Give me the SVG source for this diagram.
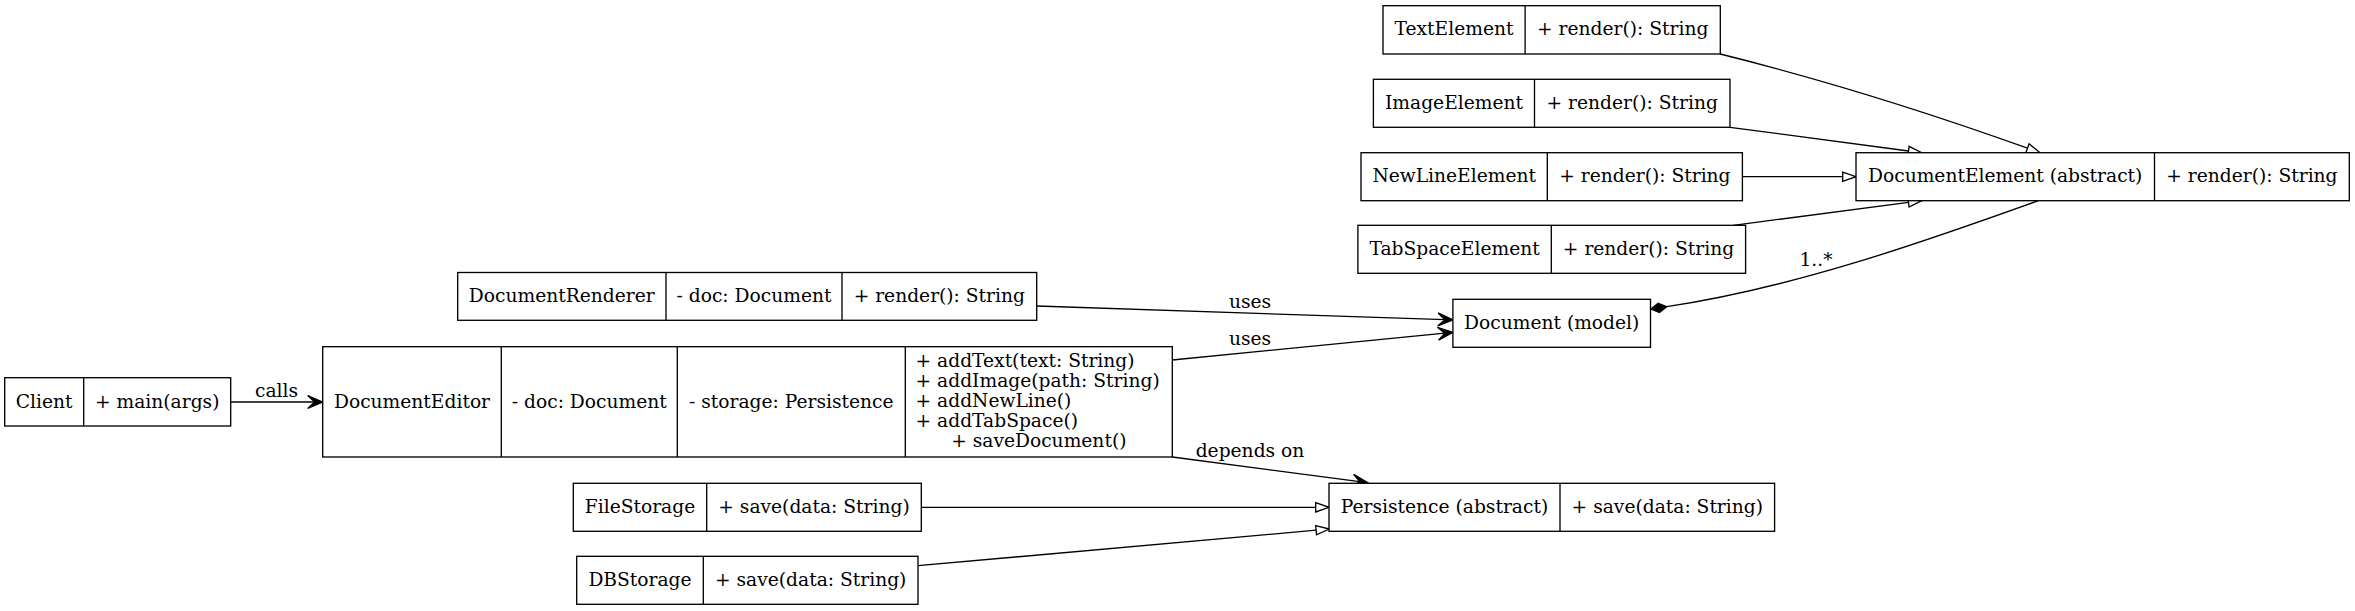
<svg xmlns="http://www.w3.org/2000/svg" width="2355" height="611" viewBox="0 0 2355 611">
<style>
.box{fill:#fff;stroke:#000;stroke-width:1.33}
.div{stroke:#000;stroke-width:1.33}
text{font-family:"DejaVu Serif","Liberation Serif",serif;font-size:18.67px;fill:#000}
.c{text-anchor:middle}
.l{text-anchor:start}
.edge{fill:none;stroke:#000;stroke-width:1.33}
</style>
<defs>
<marker id="vee" markerUnits="userSpaceOnUse" markerWidth="30" markerHeight="30" refX="0" refY="0" orient="auto" overflow="visible">
<path d="M8,0 L-7,-6.5 L0,0 L-7,6.5 Z" fill="#000" stroke="#000" stroke-width="1.33" stroke-linejoin="miter"/>
</marker>
<marker id="tri" markerUnits="userSpaceOnUse" markerWidth="30" markerHeight="30" refX="0" refY="0" orient="auto" overflow="visible">
<path d="M0,-4.67 L13.3,0 L0,4.67 Z" fill="#fff" stroke="#000" stroke-width="1.33"/>
</marker>
<marker id="diamond" markerUnits="userSpaceOnUse" markerWidth="30" markerHeight="30" refX="0" refY="0" orient="auto" overflow="visible">
<path d="M0,0 L8,-4.7 L16,0 L8,4.7 Z" fill="#000" stroke="#000" stroke-width="1.33"/>
</marker>
</defs>
<rect x="0" y="0" width="2355" height="611" fill="#fff"/>

<g id="connectors">
<path class="edge" d="M230.7,402 L314.7,402" marker-end="url(#vee)"/>
<path class="edge" d="M1036.7,306 L1444.9,319.7" marker-end="url(#vee)"/>
<path class="edge" d="M1172.3,360 L1444.9,333.1" marker-end="url(#vee)"/>
<path class="edge" d="M1172.3,457 L1359.7,481.6" marker-end="url(#vee)"/>
<path class="edge" d="M921.3,507.3 L1315.7,507.3" marker-end="url(#tri)"/>
<path class="edge" d="M918,565.7 L1316.1,530.2" marker-end="url(#tri)"/>
<path class="edge" d="M1720.3,54 C1820.3,79 1927.5,112.2 2027.5,148.2" marker-end="url(#tri)"/>
<path class="edge" d="M1730,127.3 L1908.5,151" marker-end="url(#tri)"/>
<path class="edge" d="M1742.4,176.7 L1842.7,176.7" marker-end="url(#tri)"/>
<path class="edge" d="M1733.3,225.3 L1908.5,202.4" marker-end="url(#tri)"/>
<path class="edge" d="M2038.3,200.7 C1914.3,245.3 1790.7,288.1 1666.7,306.7" marker-end="url(#diamond)"/>
<text class="c" x="276.5" y="396.7">calls</text>
<text class="c" x="1250" y="308.3">uses</text>
<text class="c" x="1250" y="345.3">uses</text>
<text class="c" x="1250" y="457.3">depends on</text>
<text class="c" x="1816" y="265.7">1..*</text>
</g>

<g id="TextElement">
<rect class="box" x="1383" y="5.7" width="337.3" height="48.3"/>
<line class="div" x1="1525.1" y1="5.7" x2="1525.1" y2="54"/>
<text class="c" x="1454" y="35.4">TextElement</text>
<text class="c" x="1622.7" y="35.4">+ render(): String</text>
</g>

<g id="ImageElement">
<rect class="box" x="1373.4" y="79.3" width="356.6" height="48"/>
<line class="div" x1="1534.5" y1="79.3" x2="1534.5" y2="127.3"/>
<text class="c" x="1454" y="108.9">ImageElement</text>
<text class="c" x="1632.2" y="108.9">+ render(): String</text>
</g>

<g id="NewLineElement">
<rect class="box" x="1361" y="152.7" width="381.4" height="48"/>
<line class="div" x1="1547.3" y1="152.7" x2="1547.3" y2="200.7"/>
<text class="c" x="1454.2" y="182.3">NewLineElement</text>
<text class="c" x="1644.9" y="182.3">+ render(): String</text>
</g>

<g id="TabSpaceElement">
<rect class="box" x="1357.9" y="225.3" width="387.7" height="48"/>
<line class="div" x1="1551.3" y1="225.3" x2="1551.3" y2="273.3"/>
<text class="c" x="1454.6" y="254.9">TabSpaceElement</text>
<text class="c" x="1648.5" y="254.9">+ render(): String</text>
</g>

<g id="DocumentElement">
<rect class="box" x="1856" y="152.7" width="493.3" height="48"/>
<line class="div" x1="2154.5" y1="152.7" x2="2154.5" y2="200.7"/>
<text class="c" x="2005.2" y="182.3">DocumentElement (abstract)</text>
<text class="c" x="2251.9" y="182.3">+ render(): String</text>
</g>

<g id="DocumentRenderer">
<rect class="box" x="457.7" y="272.5" width="579" height="47.8"/>
<line class="div" x1="666" y1="272.5" x2="666" y2="320.3"/>
<line class="div" x1="842" y1="272.5" x2="842" y2="320.3"/>
<text class="c" x="561.8" y="302">DocumentRenderer</text>
<text class="c" x="754" y="302">- doc: Document</text>
<text class="c" x="939.3" y="302">+ render(): String</text>
</g>

<g id="Document">
<rect class="box" x="1452.9" y="299.3" width="197.6" height="48"/>
<text class="c" x="1551.7" y="328.9">Document (model)</text>
</g>

<g id="Client">
<rect class="box" x="4.7" y="377.7" width="226" height="48.3"/>
<line class="div" x1="83.7" y1="377.7" x2="83.7" y2="426"/>
<text class="c" x="44.2" y="407.5">Client</text>
<text class="c" x="157.2" y="407.5">+ main(args)</text>
</g>

<g id="DocumentEditor">
<rect class="box" x="322.7" y="346.7" width="849.6" height="110.3"/>
<line class="div" x1="501.3" y1="346.7" x2="501.3" y2="457"/>
<line class="div" x1="677.3" y1="346.7" x2="677.3" y2="457"/>
<line class="div" x1="905.3" y1="346.7" x2="905.3" y2="457"/>
<text class="c" x="412" y="407.5">DocumentEditor</text>
<text class="c" x="589.3" y="407.5">- doc: Document</text>
<text class="c" x="791.3" y="407.5">- storage: Persistence</text>
<text class="l" x="915.5" y="366.7">+ addText(text: String)</text>
<text class="l" x="915.5" y="386.7">+ addImage(path: String)</text>
<text class="l" x="915.5" y="406.7">+ addNewLine()</text>
<text class="l" x="915.5" y="426.7">+ addTabSpace()</text>
<text class="c" x="1038.8" y="446.7">+ saveDocument()</text>
</g>

<g id="FileStorage">
<rect class="box" x="573.3" y="483.3" width="348" height="48"/>
<line class="div" x1="706.7" y1="483.3" x2="706.7" y2="531.3"/>
<text class="c" x="640" y="512.9">FileStorage</text>
<text class="c" x="814" y="512.9">+ save(data: String)</text>
</g>

<g id="DBStorage">
<rect class="box" x="576.7" y="556.3" width="341.3" height="48"/>
<line class="div" x1="703.3" y1="556.3" x2="703.3" y2="604.3"/>
<text class="c" x="640" y="585.9">DBStorage</text>
<text class="c" x="810.7" y="585.9">+ save(data: String)</text>
</g>

<g id="Persistence">
<rect class="box" x="1329" y="483.3" width="445.6" height="48"/>
<line class="div" x1="1560" y1="483.3" x2="1560" y2="531.3"/>
<text class="c" x="1444.5" y="512.9">Persistence (abstract)</text>
<text class="c" x="1667.3" y="512.9">+ save(data: String)</text>
</g>
</svg>
